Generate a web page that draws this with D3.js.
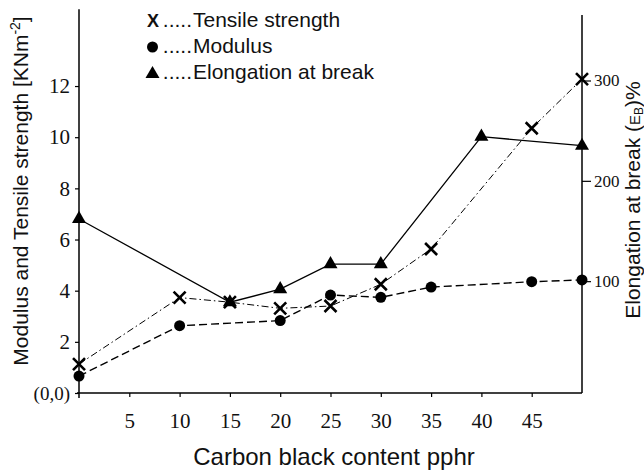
<!DOCTYPE html>
<html>
<head>
<script src="https://d3js.org/d3.v7.min.js"></script>
<style>
  body { margin: 0; background: #fff; }
</style>
</head>
<body>
<div id="container"></div>
<script>
// data
var tensileX = [0, 10, 15, 20, 25, 30, 35, 45, 50];
var tensileY = [1.13, 3.73, 3.55, 3.31, 3.40, 4.25, 5.63, 10.35, 12.27];

var modulusX = [0, 10, 20, 25, 30, 35, 45, 50];
var modulusY = [0.66, 2.63, 2.83, 3.83, 3.74, 4.14, 4.35, 4.42];

var elongX = [0, 15, 20, 25, 30, 40, 50];
var elongY = [162, 79, 92, 117, 117, 244, 235];

var xTicks = [5, 10, 15, 20, 25, 30, 35, 40, 45];
var leftTicks = [0, 2, 4, 6, 8, 10, 12];
var rightTicks = [100, 200, 300];

var legendItems = ["Tensile strength", "Modulus", "Elongation at break"];

var width = 644, height = 470;
var serif = "'Liberation Serif', 'Times New Roman', serif";
var sans = "'Liberation Sans', Arial, sans-serif";

var svg = d3.select("#container").append("svg")
  .attr("width", width)
  .attr("height", height);

var xScale = d3.scaleLinear().domain([0, 50]).range([79, 582]);
var yLeft = d3.scaleLinear().domain([0, 15]).range([393, 9.3]);
var yRight = d3.scaleLinear().domain([0, 300]).range([381.5, 80.5]);

// axes
var gx = svg.append("g")
  .attr("transform", "translate(0," + yLeft(0) + ")")
  .call(d3.axisBottom(xScale).tickValues(xTicks).tickSize(4).tickPadding(16).tickFormat(d3.format("d")));

var gl = svg.append("g")
  .attr("transform", "translate(" + xScale(0) + ",0)")
  .call(d3.axisLeft(yLeft).tickValues(leftTicks).tickSize(4).tickPadding(5)
    .tickFormat(function(d) { return d === 0 ? "(0,0)" : d; }));

var gr = svg.append("g")
  .attr("transform", "translate(" + xScale(50) + ",0)")
  .call(d3.axisRight(yRight).tickValues(rightTicks).tickSize(9).tickPadding(3));

[gx, gl, gr].forEach(function(g) {
  g.select(".domain").remove();
  g.selectAll(".tick line").attr("stroke", "#000").attr("stroke-width", 1.2);
  g.selectAll(".tick text").attr("fill", "#111").style("font-family", serif).style("font-size", "21px");
});
gl.select(".tick text").style("font-size", "19px");
gr.selectAll(".tick text").style("font-size", "17px");

// axis lines
svg.append("line")
  .attr("x1", xScale(0)).attr("x2", xScale(0))
  .attr("y1", yLeft(15)).attr("y2", yLeft(0) + 5)
  .attr("stroke", "#000").attr("stroke-width", 1.5);
svg.append("line")
  .attr("x1", xScale(0) - 2).attr("x2", xScale(50))
  .attr("y1", yLeft(0)).attr("y2", yLeft(0))
  .attr("stroke", "#000").attr("stroke-width", 1.5);
svg.append("line")
  .attr("x1", xScale(50)).attr("x2", xScale(50))
  .attr("y1", 15).attr("y2", yLeft(0))
  .attr("stroke", "#000").attr("stroke-width", 1.5);

// lines
function pts(xa, ya, ys) {
  return xa.map(function(x, i) { return [xScale(x), ys(ya[i])]; });
}
var line = d3.line();

svg.append("path")
  .attr("d", line(pts(elongX, elongY, yRight)))
  .attr("fill", "none").attr("stroke", "#000").attr("stroke-width", 1.3);

svg.append("path")
  .attr("d", line(pts(modulusX, modulusY, yLeft)))
  .attr("fill", "none").attr("stroke", "#000").attr("stroke-width", 1.4)
  .attr("stroke-dasharray", "8,4");

svg.append("path")
  .attr("d", line(pts(tensileX, tensileY, yLeft)))
  .attr("fill", "none").attr("stroke", "#000").attr("stroke-width", 1)
  .attr("stroke-dasharray", "7,3,1.5,3");

// markers
var tri = d3.symbol().type(d3.symbolTriangle).size(85);

svg.selectAll(".tri")
  .data(pts(elongX, elongY, yRight))
  .enter().append("path")
  .attr("class", "tri")
  .attr("transform", function(d) { return "translate(" + d[0] + "," + d[1] + ")"; })
  .attr("d", tri)
  .attr("fill", "#000");

svg.selectAll(".dot")
  .data(pts(modulusX, modulusY, yLeft))
  .enter().append("circle")
  .attr("class", "dot")
  .attr("cx", function(d) { return d[0]; })
  .attr("cy", function(d) { return d[1]; })
  .attr("r", 5.5)
  .attr("fill", "#000");

svg.selectAll(".cross")
  .data(pts(tensileX, tensileY, yLeft))
  .enter().append("path")
  .attr("class", "cross")
  .attr("d", function(d) {
    var s = 6;
    return "M" + (d[0] - s) + "," + (d[1] - s) + "L" + (d[0] + s) + "," + (d[1] + s) +
           "M" + (d[0] - s) + "," + (d[1] + s) + "L" + (d[0] + s) + "," + (d[1] - s);
  })
  .attr("stroke", "#000").attr("stroke-width", 2.6).attr("fill", "none");

// legend
var legY = [27, 53, 79];
svg.append("text")
  .attr("x", 147).attr("y", legY[0])
  .style("font-family", sans).style("font-size", "18px").style("font-weight", "bold")
  .attr("fill", "#111")
  .text("X");
svg.append("circle")
  .attr("cx", 152.5).attr("cy", legY[1] - 6).attr("r", 5.5).attr("fill", "#000");
svg.append("path")
  .attr("transform", "translate(152.5," + (legY[2] - 5) + ")")
  .attr("d", tri).attr("fill", "#000");

legendItems.forEach(function(name, i) {
  svg.append("text")
    .attr("x", 192).attr("y", legY[i])
    .attr("text-anchor", "end")
    .style("font-family", sans).style("font-size", "21px")
    .attr("fill", "#111")
    .text(".....");
  svg.append("text")
    .attr("x", 193).attr("y", legY[i])
    .style("font-family", sans).style("font-size", "21px")
    .attr("fill", "#111")
    .text(name);
});

// axis titles
svg.append("text")
  .attr("x", 334).attr("y", 465)
  .attr("text-anchor", "middle")
  .style("font-family", sans).style("font-size", "24px")
  .attr("fill", "#111")
  .text("Carbon black content pphr");

var lt = svg.append("text")
  .attr("transform", "translate(28,191) rotate(-90)")
  .attr("text-anchor", "middle")
  .style("font-family", sans).style("font-size", "21px")
  .attr("fill", "#111");
lt.append("tspan").text("Modulus and Tensile strength [KNm");
lt.append("tspan").attr("dy", -8).style("font-size", "14px").text("-2");
lt.append("tspan").attr("dy", 8).text("]");

// right title hugs the edge, as in the scan, but kept inside the frame
var rt = svg.append("text")
  .attr("transform", "translate(639.5,200) rotate(-90)")
  .attr("text-anchor", "middle")
  .style("font-family", sans).style("font-size", "21px")
  .attr("fill", "#111");
rt.append("tspan").text("Elongation at break (");
rt.append("tspan").style("font-size", "15px").text("E");
rt.append("tspan").attr("dy", 3).style("font-size", "12px").text("B");
rt.append("tspan").attr("dy", -3).text(")%");
</script>
</body>
</html>
